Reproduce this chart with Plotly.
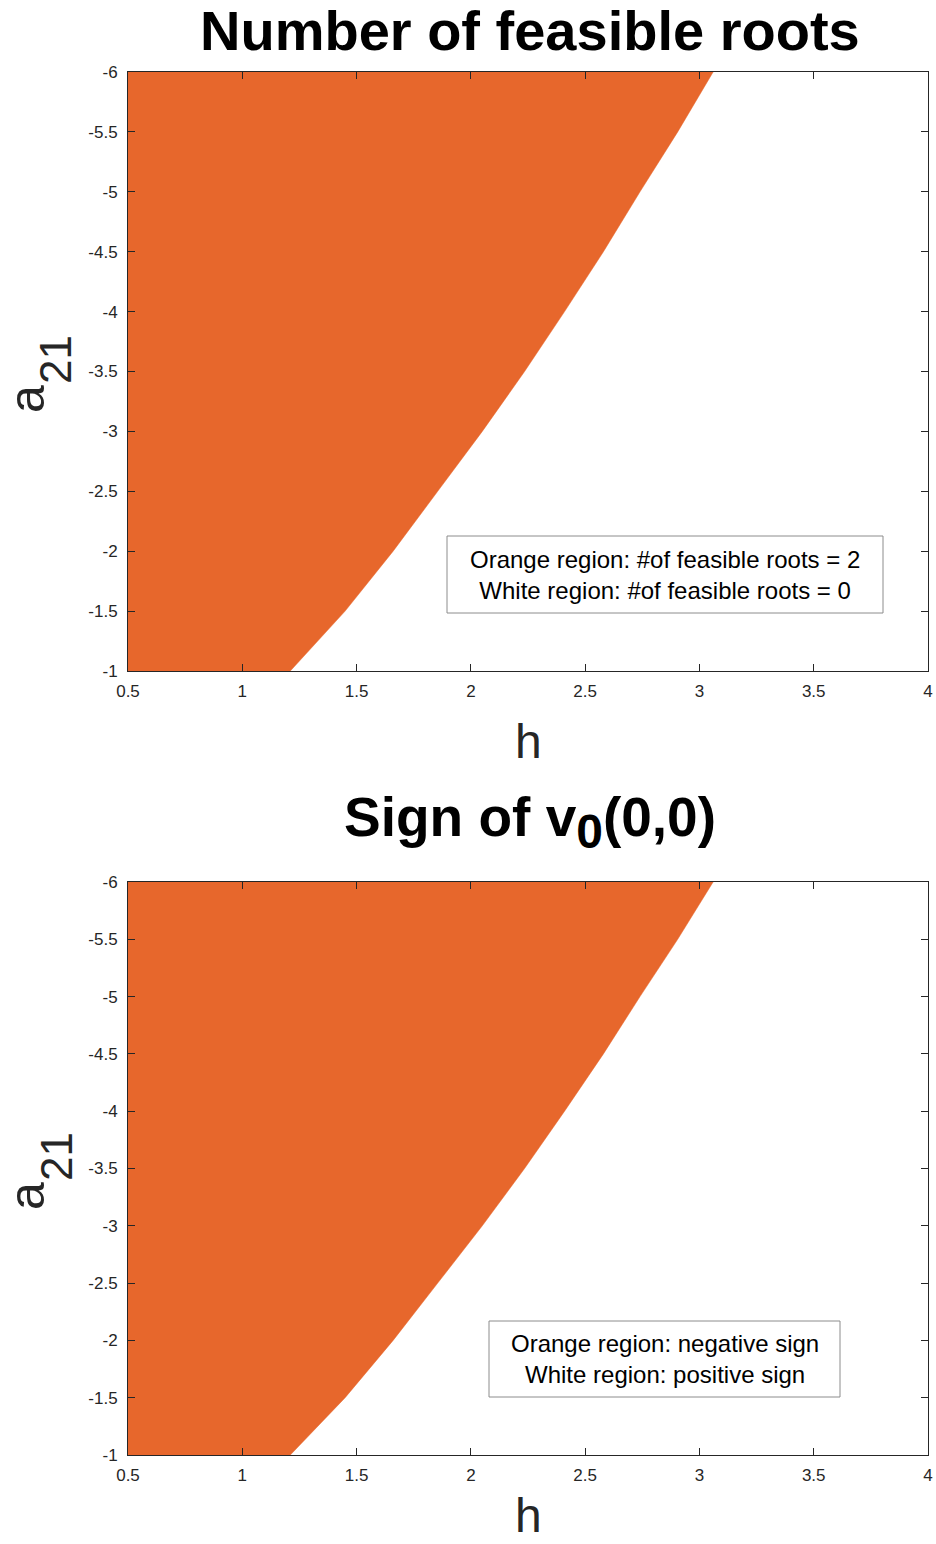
import plotly.graph_objects as go

# Boundary of the orange region: a21 value -> h at boundary
a21_levels = [-1.0, -1.5, -2.0, -2.5, -3.0, -3.5, -4.0, -4.5, -5.0, -5.5, -6.0]
h_boundary_top = [1.21, 1.45, 1.66, 1.855, 2.05, 2.235, 2.41, 2.58, 2.74, 2.905, 3.06]
h_boundary_bottom = [1.21, 1.45, 1.66, 1.855, 2.05, 2.235, 2.41, 2.58, 2.74, 2.905, 3.06]

x_ticks = [0.5, 1, 1.5, 2, 2.5, 3, 3.5, 4]
x_ticktext = ["0.5", "1", "1.5", "2", "2.5", "3", "3.5", "4"]
y_ticks = [-6, -5.5, -5, -4.5, -4, -3.5, -3, -2.5, -2, -1.5, -1]
y_ticktext = ["-6", "-5.5", "-5", "-4.5", "-4", "-3.5", "-3", "-2.5", "-2", "-1.5", "-1"]

h_min, h_max = 0.5, 4.0
a_min, a_max = -6.0, -1.0

titles = ["<b>Number of feasible roots</b>",
          "<b>Sign of v<sub><span style='font-size:48px'>0</span></sub>(0,0)</b>"]
notes = ["Orange region: #of feasible roots = 2<br>White region: #of feasible roots = 0",
         "Orange region: negative sign<br>White region: positive sign"]

ORANGE = "#E7672C"
FONT = "Liberation Sans"
W, H = 936, 1544

fig = go.Figure()

for i, hb in enumerate([h_boundary_top, h_boundary_bottom]):
    xs = [h_min] + list(hb) + [h_min, h_min]
    ys = [a21_levels[0]] + list(a21_levels) + [a21_levels[-1], a21_levels[0]]
    sfx = "" if i == 0 else "2"
    fig.add_trace(go.Scatter(x=xs, y=ys, mode="lines", fill="toself",
                             fillcolor=ORANGE, line=dict(width=0.5, color=ORANGE),
                             xaxis="x" + sfx, yaxis="y" + sfx, showlegend=False,
                             hoverinfo="skip"))

# pixel geometry
xdom = [128 / W, 928 / W]
ydoms = [[1 - 671 / H, 1 - 72 / H], [1 - 1455 / H, 1 - 882 / H]]

axis_common = dict(showline=True, linecolor="#262626", linewidth=1, mirror="ticks",
                   ticks="inside", ticklen=7, tickcolor="#262626", showgrid=False,
                   zeroline=False, automargin=False,
                   tickfont=dict(family=FONT, size=17, color="#262626"))

for i in range(2):
    sfx = "" if i == 0 else "2"
    fig.layout["xaxis" + sfx] = dict(axis_common, domain=xdom, range=[h_min, h_max],
                                     tickvals=x_ticks, ticktext=x_ticktext,
                                     ticklabelstandoff=5, anchor="y" + sfx)
    fig.layout["yaxis" + sfx] = dict(axis_common, domain=ydoms[i], range=[a_max, a_min],
                                     tickvals=y_ticks, ticktext=y_ticktext,
                                     ticklabelstandoff=6, anchor="x" + sfx)

annotations = []
shapes = []
title_y = [31, 822]
title_size = [56, 55]
plot_shift = [0, 797]
boxes = [(447, 536, 883, 613), (489, 1321, 840, 1397)]
for i in range(2):
    annotations.append(dict(text=titles[i], x=530 / W, y=1 - title_y[i] / H,
                            xref="paper", yref="paper", showarrow=False,
                            xanchor="center", yanchor="middle",
                            font=dict(family=FONT, size=title_size[i], color="black")))
    # y-axis title a_21 (rotated), drawn as base letter + lowered subscript
    annotations.append(dict(text="a", x=27 / W, y=1 - (399 + plot_shift[i]) / H,
                            xref="paper", yref="paper", showarrow=False, textangle=-90,
                            xanchor="center", yanchor="middle",
                            font=dict(family=FONT, size=50, color="#262626")))
    annotations.append(dict(text="21", x=56 / W, y=1 - (360 + plot_shift[i]) / H,
                            xref="paper", yref="paper", showarrow=False, textangle=-90,
                            xanchor="center", yanchor="middle",
                            font=dict(family=FONT, size=44, color="#262626")))
    x0, y0, x1, y1 = boxes[i]
    shapes.append(dict(type="rect", xref="paper", yref="paper",
                       x0=x0 / W, x1=x1 / W, y0=1 - y1 / H, y1=1 - y0 / H,
                       line=dict(color="#8c8c8c", width=1), fillcolor="white",
                       layer="above"))
    annotations.append(dict(text=notes[i], x=(x0 + x1) / 2 / W, y=1 - (y0 + y1) / 2 / H,
                            xref="paper", yref="paper", showarrow=False,
                            xanchor="center", yanchor="middle", align="center",
                            font=dict(family=FONT, size=24, color="black")))

annotations.append(dict(text="h", x=528 / W, y=1 - 742 / H, xref="paper", yref="paper",
                        showarrow=False, xanchor="center", yanchor="middle",
                        font=dict(family=FONT, size=48, color="#262626")))
annotations.append(dict(text="h", x=528 / W, y=0, xref="paper", yref="paper",
                        showarrow=False, xanchor="center", yanchor="bottom",
                        font=dict(family=FONT, size=48, color="#262626")))

fig.update_layout(width=W, height=H, margin=dict(l=0, r=0, t=0, b=0),
                  paper_bgcolor="white", plot_bgcolor="white",
                  annotations=annotations, shapes=shapes, showlegend=False)

fig.write_html("out.html", config={"displayModeBar": False},
               post_script="document.body.style.margin='0';document.body.style.overflow='hidden';")
